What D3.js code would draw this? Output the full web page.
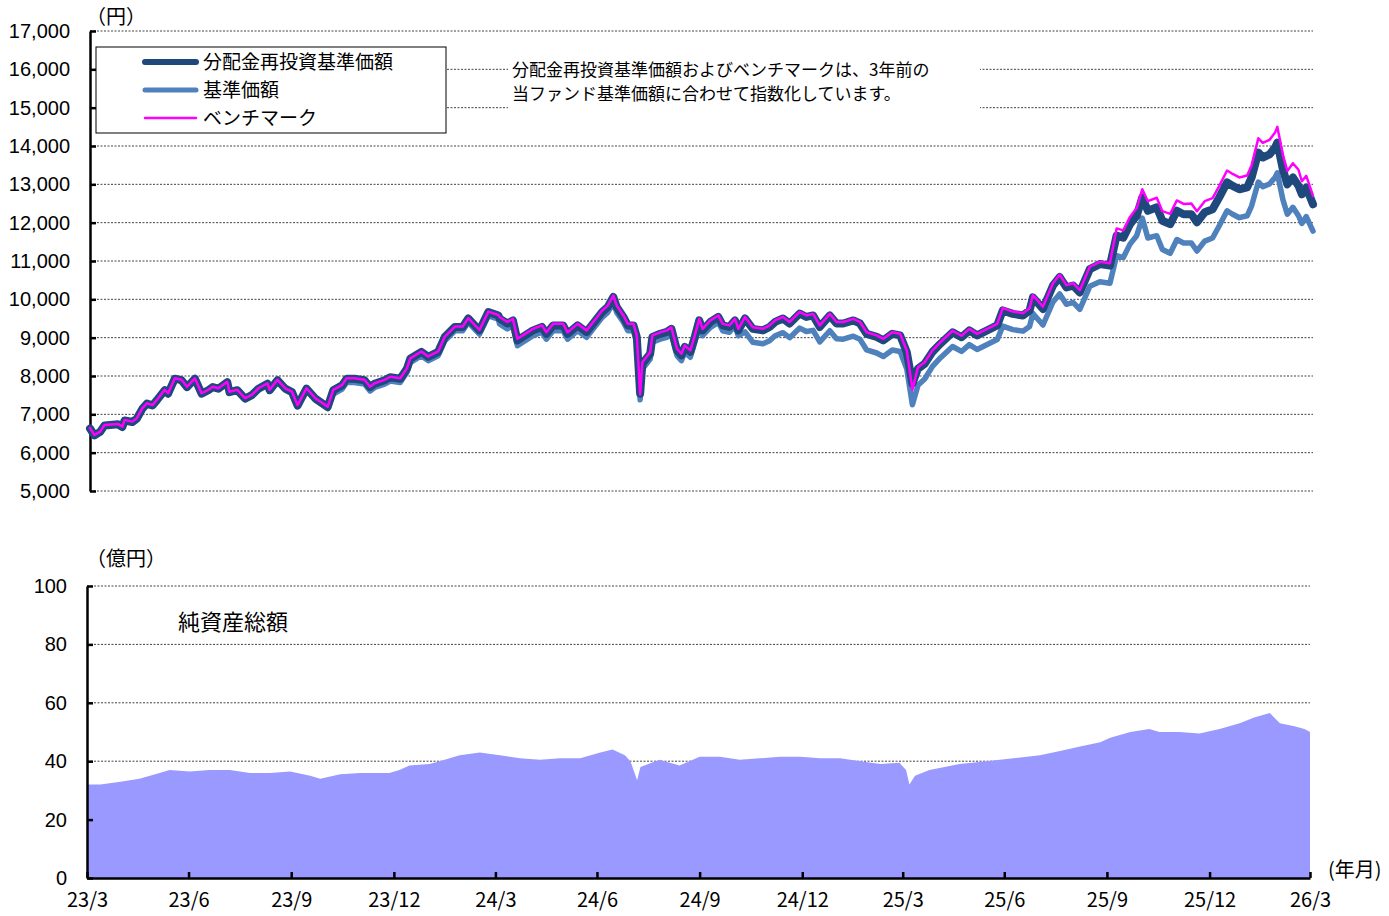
<!DOCTYPE html>
<html lang="ja">
<head>
<meta charset="UTF-8">
<title>基準価額・純資産の推移</title>
<script src="https://d3js.org/d3.v7.min.js"></script>
<style>
    body { margin: 0; background: #fff; }
    svg { display: block; }
</style>
</head>
<body>
<svg id="chart"></svg>

<script>
// 2023/3/31 からの経過日数
var days = [0, 4, 9, 13, 25, 29, 31, 38, 42, 47, 51, 56, 60, 67, 70, 76, 82, 87, 94, 100,
    106, 110, 115, 123, 125, 132, 139, 145, 151, 159, 161, 168, 175, 181, 186, 194, 202, 211, 213, 218,
    226, 230, 237, 246, 251, 255, 264, 269, 278, 284, 287, 297, 303, 312, 318, 327, 334, 339, 349, 357,
    366, 367, 374, 379, 383, 390, 397, 405, 409, 415, 424, 428, 437, 445, 452, 459, 464, 469, 472, 478,
    482, 487, 490, 493, 495, 502, 504, 511, 517, 521, 526, 530, 533, 538, 542, 546, 549, 556, 563, 567,
    573, 578, 581, 587, 594, 603, 609, 614, 621, 627, 636, 642, 648, 654, 663, 669, 675, 684, 690, 696,
    705, 711, 719, 726, 732, 737, 742, 748, 755, 762, 773, 781, 788, 795, 804, 813, 818, 827, 836, 842,
    845, 854, 863, 869, 875, 881, 887, 896, 905, 914, 920, 926, 932, 938, 943, 948, 956, 961, 968, 974,
    980, 987, 992, 999, 1006, 1012, 1019, 1024, 1030, 1037, 1041, 1047, 1051, 1057, 1062, 1064, 1069, 1073, 1078, 1083,
    1086, 1090, 1096];

// 分配金再投資基準価額（円）
var navReinvest = [6630, 6450, 6540, 6710, 6740, 6670, 6840, 6800, 6890, 7150, 7280, 7230, 7370, 7630, 7540, 7930, 7890, 7710, 7930, 7540,
    7630, 7710, 7670, 7840, 7580, 7630, 7410, 7500, 7670, 7800, 7630, 7890, 7670, 7580, 7230, 7670, 7410, 7230, 7190, 7630,
    7760, 7930, 7930, 7890, 7710, 7800, 7890, 7970, 7930, 8190, 8450, 8630, 8500, 8630, 9020, 9280, 9280, 9500, 9190, 9670,
    9580, 9500, 9370, 9450, 8930, 9060, 9190, 9280, 9100, 9320, 9320, 9100, 9320, 9150, 9410, 9670, 9800, 10060, 9800, 9540,
    9320, 9320, 9020, 7540, 8320, 8580, 9020, 9100, 9150, 9230, 8670, 8540, 8760, 8630, 9020, 9450, 9190, 9410, 9540, 9320,
    9280, 9450, 9190, 9500, 9230, 9190, 9280, 9410, 9500, 9370, 9630, 9540, 9580, 9280, 9580, 9370, 9370, 9450, 9370, 9100,
    9020, 8930, 9100, 9060, 8620, 7800, 8190, 8320, 8630, 8840, 9140, 9010, 9190, 9060, 9190, 9320, 9710, 9620, 9580, 9710,
    10050, 9750, 10360, 10580, 10310, 10360, 10180, 10790, 10920, 10880, 11660, 11610, 11960, 12180, 12660, 12310, 12400, 12050, 11960, 12310,
    12220, 12220, 12010, 12270, 12350, 12660, 13050, 12960, 12870, 12920, 13180, 13830, 13700, 13780, 13960, 14090, 13390, 13000, 13180, 12960,
    12740, 12920, 12480];

// 基準価額（円）
var navBase = [6610, 6430, 6520, 6690, 6720, 6650, 6820, 6780, 6870, 7130, 7260, 7210, 7350, 7610, 7520, 7910, 7870, 7690, 7910, 7520,
    7610, 7690, 7650, 7820, 7560, 7610, 7390, 7480, 7650, 7780, 7610, 7870, 7650, 7560, 7200, 7640, 7380, 7190, 7150, 7530,
    7660, 7830, 7830, 7790, 7610, 7700, 7790, 7870, 7830, 8090, 8350, 8530, 8400, 8530, 8920, 9180, 9180, 9400, 9090, 9570,
    9480, 9360, 9230, 9310, 8790, 8920, 9050, 9140, 8960, 9180, 9180, 8960, 9180, 9010, 9270, 9530, 9660, 9920, 9660, 9400,
    9180, 9180, 8880, 7380, 8180, 8440, 8880, 8960, 9010, 9090, 8530, 8400, 8620, 8490, 8880, 9310, 9050, 9270, 9400, 9180,
    9140, 9310, 9050, 9150, 8880, 8840, 8920, 9050, 9130, 9000, 9250, 9160, 9190, 8890, 9180, 8970, 8960, 9040, 8960, 8680,
    8600, 8510, 8680, 8640, 8180, 7250, 7760, 7920, 8250, 8470, 8770, 8640, 8820, 8690, 8820, 8950, 9300, 9210, 9170, 9290,
    9630, 9330, 9930, 10140, 9870, 9920, 9740, 10340, 10460, 10420, 11140, 11090, 11440, 11660, 12120, 11600, 11660, 11300, 11200, 11560,
    11470, 11470, 11260, 11520, 11600, 11920, 12310, 12220, 12130, 12180, 12440, 13060, 12940, 13010, 13180, 13300, 12600, 12220, 12400, 12180,
    11980, 12160, 11780];

// ベンチマーク（円換算）
var bench = [6640, 6460, 6550, 6720, 6750, 6680, 6850, 6810, 6900, 7160, 7290, 7240, 7380, 7640, 7550, 7940, 7900, 7720, 7940, 7550,
    7640, 7720, 7680, 7850, 7590, 7640, 7420, 7510, 7680, 7810, 7640, 7900, 7680, 7590, 7240, 7680, 7420, 7240, 7200, 7640,
    7770, 7940, 7940, 7900, 7720, 7810, 7900, 7980, 7940, 8200, 8460, 8640, 8510, 8640, 9030, 9290, 9290, 9510, 9200, 9680,
    9590, 9540, 9410, 9490, 8970, 9100, 9230, 9320, 9140, 9360, 9360, 9140, 9360, 9190, 9450, 9710, 9840, 10100, 9840, 9580,
    9360, 9360, 9060, 7520, 8360, 8620, 9060, 9140, 9190, 9270, 8710, 8580, 8800, 8670, 9060, 9490, 9230, 9450, 9580, 9360,
    9320, 9490, 9230, 9540, 9270, 9230, 9320, 9450, 9540, 9410, 9670, 9580, 9620, 9320, 9620, 9410, 9410, 9490, 9410, 9140,
    9060, 8970, 9140, 9100, 8660, 7640, 8230, 8360, 8670, 8880, 9180, 9050, 9230, 9100, 9230, 9360, 9770, 9680, 9640, 9770,
    10110, 9810, 10420, 10640, 10370, 10420, 10240, 10850, 10980, 10940, 11850, 11800, 12150, 12380, 12870, 12560, 12650, 12300, 12230, 12580,
    12490, 12500, 12300, 12560, 12640, 12960, 13360, 13270, 13180, 13230, 13500, 14200, 14080, 14160, 14350, 14500, 13770, 13350, 13550, 13380,
    13080, 13220, 12700];

// 純資産総額（億円）
var assetDays = [0, 12, 30, 47, 65, 74, 92, 110, 128, 146, 164, 182, 200, 209, 227, 245, 271, 280, 289, 307,
    316, 334, 352, 370, 388, 406, 424, 442, 460, 471, 482, 487, 493, 496, 513, 531, 549, 567, 585, 603,
    621, 639, 657, 675, 693, 711, 728, 734, 737, 742, 755, 782, 818, 854, 872, 890, 908, 917, 935, 952,
    961, 979, 997, 1015, 1033, 1046, 1060, 1069, 1082, 1091, 1096];
var assets = [32, 32, 33, 34, 36, 37, 36.5, 37, 37, 36, 36, 36.5, 35, 34, 35.5, 36, 36, 37, 38.5, 39,
    40, 42, 43, 42, 41, 40.5, 41, 41, 43, 44, 42, 40, 33.5, 38, 40.5, 38.5, 41.5, 41.5, 40.5, 41,
    41.5, 41.5, 41, 41, 40, 39, 39.5, 37, 32, 35, 37, 39, 40.5, 42, 43.5, 45, 46.5, 48, 50, 51,
    50, 50, 49.5, 51, 53, 55, 56.5, 53, 52, 51, 50];

var xLabels = ["23/3", "23/6", "23/9", "23/12", "24/3", "24/6", "24/9", "24/12", "25/3", "25/6", "25/9", "25/12", "26/3"];
var yTopTicks = [5000, 6000, 7000, 8000, 9000, 10000, 11000, 12000, 13000, 14000, 15000, 16000, 17000];
var yBottomTicks = [0, 20, 40, 60, 80, 100];
var legendNames = ["分配金再投資基準価額", "基準価額", "ベンチマーク"];

(function() {
    var width = 1389;
    var height = 916;
    var jp = "'Noto Sans CJK JP', sans-serif";
    var num = "'Liberation Sans', Arial, sans-serif";

    var svg = d3.select("#chart")
        .attr("width", width)
        .attr("height", height);

    var start = new Date(2023, 2, 31);
    var end = new Date(2026, 2, 31);
    function toDate(d) { return d3.timeDay.offset(start, d); }
    // 各四半期の月末
    var tickDates = xLabels.map(function(s, i) { return new Date(2023, 3 + 3 * i, 0); });

    // ===== 上段：基準価額 =====
    var xT = d3.scaleTime().domain([start, end]).range([90, 1313]);
    var yT = d3.scaleLinear().domain([5000, 17000]).range([491, 31]);

    var gTop = svg.append("g");
    gTop.selectAll("line.grid")
        .data(yTopTicks)
        .enter()
        .append("line")
        .attr("class", "grid")
        .attr("x1", 90).attr("x2", 1313)
        .attr("y1", function(d) { return yT(d); })
        .attr("y2", function(d) { return yT(d); })
        .attr("stroke", "#444")
        .attr("stroke-width", 1)
        .attr("stroke-dasharray", "2,1.5");

    var yAxisTop = gTop.append("g")
        .attr("transform", "translate(90,0)")
        .call(d3.axisLeft(yT).tickValues(yTopTicks).tickSizeInner(-6).tickSizeOuter(0)
            .tickPadding(20).tickFormat(d3.format(",")));
    yAxisTop.select(".domain").attr("stroke", "#000").attr("stroke-width", 2.5);
    yAxisTop.selectAll(".tick line").attr("stroke", "#000").attr("stroke-width", 2.5);
    yAxisTop.selectAll("text").attr("font-family", num).attr("font-size", 20).attr("fill", "#000");

    gTop.append("text")
        .attr("x", 86).attr("y", 24)
        .attr("font-family", jp).attr("font-size", 20)
        .text("（円）");

    // 折れ線（基準価額 → 分配金再投資 → ベンチマーク の順に重ねる）
    var series = [
        { values: navBase, color: "#4f81bd", width: 5.5 },
        { values: navReinvest, color: "#1f497d", width: 8 },
        { values: bench, color: "#ff00ff", width: 2.5 }
    ];
    series.forEach(function(s) {
        var line = d3.line()
            .x(function(d, i) { return xT(toDate(days[i])); })
            .y(function(d) { return yT(d); });
        gTop.append("path")
            .attr("d", line(s.values))
            .attr("fill", "none")
            .attr("stroke", s.color)
            .attr("stroke-width", s.width)
            .attr("stroke-linejoin", "round")
            .attr("stroke-linecap", "round");
    });

    // 凡例（分配金再投資 / 基準価額 / ベンチマーク）
    var legend = gTop.append("g");
    legend.append("rect")
        .attr("x", 96).attr("y", 47).attr("width", 350).attr("height", 86)
        .attr("fill", "#fff").attr("stroke", "#000").attr("stroke-width", 1);
    var legendOrder = [series[1], series[0], series[2]];
    var legendWidths = [6, 5, 2.5];
    legendOrder.forEach(function(s, i) {
        var yy = 62 + i * 28;
        legend.append("line")
            .attr("x1", 145).attr("x2", 196)
            .attr("y1", yy).attr("y2", yy)
            .attr("stroke", s.color)
            .attr("stroke-width", legendWidths[i])
            .attr("stroke-linecap", "round");
        legend.append("text")
            .attr("x", 203).attr("y", yy + 7)
            .attr("font-family", jp).attr("font-size", 19)
            .text(legendNames[i]);
    });

    // 注記
    svg.append("rect")
        .attr("x", 508).attr("y", 54).attr("width", 472).attr("height", 62)
        .attr("fill", "#fff");
    svg.append("text")
        .attr("x", 512).attr("y", 76)
        .attr("font-family", jp).attr("font-size", 17)
        .text("分配金再投資基準価額およびベンチマークは、3年前の");
    svg.append("text")
        .attr("x", 512).attr("y", 100)
        .attr("font-family", jp).attr("font-size", 17)
        .text("当ファンド基準価額に合わせて指数化しています。");

    // ===== 下段：純資産総額 =====
    var xB = d3.scaleTime().domain([start, end]).range([87, 1310]);
    var yB = d3.scaleLinear().domain([0, 100]).range([878, 586]);

    var gBot = svg.append("g");
    gBot.selectAll("line.grid")
        .data(yBottomTicks.slice(1))
        .enter()
        .append("line")
        .attr("class", "grid")
        .attr("x1", 87).attr("x2", 1310)
        .attr("y1", function(d) { return yB(d); })
        .attr("y2", function(d) { return yB(d); })
        .attr("stroke", "#444")
        .attr("stroke-width", 1)
        .attr("stroke-dasharray", "2,1.5");

    var area = d3.area()
        .x(function(d, i) { return xB(toDate(assetDays[i])); })
        .y0(yB(0))
        .y1(function(d) { return yB(d); });
    gBot.append("path")
        .attr("d", area(assets))
        .attr("fill", "#9999ff");

    var yAxisBot = gBot.append("g")
        .attr("transform", "translate(87,0)")
        .call(d3.axisLeft(yB).tickValues(yBottomTicks).tickSizeInner(-6).tickSizeOuter(0).tickPadding(20));
    yAxisBot.select(".domain").attr("stroke", "#000").attr("stroke-width", 2.5);
    yAxisBot.selectAll(".tick line").attr("stroke", "#000").attr("stroke-width", 2.5);
    yAxisBot.selectAll("text").attr("font-family", num).attr("font-size", 20).attr("fill", "#000");

    var xAxisBot = gBot.append("g")
        .attr("transform", "translate(0,878)")
        .call(d3.axisBottom(xB).tickValues(tickDates).tickSizeInner(-6).tickSizeOuter(0).tickPadding(15)
            .tickFormat(function(d, i) { return xLabels[i]; }));
    xAxisBot.select(".domain").attr("stroke", "#000").attr("stroke-width", 2.5);
    xAxisBot.selectAll(".tick line").attr("stroke", "#000").attr("stroke-width", 2.5);
    xAxisBot.selectAll("text").attr("font-family", jp).attr("font-size", 20).attr("fill", "#000");

    gBot.append("text")
        .attr("x", 86).attr("y", 566)
        .attr("font-family", jp).attr("font-size", 20)
        .text("（億円）");
    gBot.append("text")
        .attr("x", 178).attr("y", 630)
        .attr("font-family", jp).attr("font-size", 22)
        .text("純資産総額");
    gBot.append("text")
        .attr("x", 1328).attr("y", 877)
        .attr("font-family", jp).attr("font-size", 20)
        .text("(年月)");
})();
</script>
</body>
</html>
